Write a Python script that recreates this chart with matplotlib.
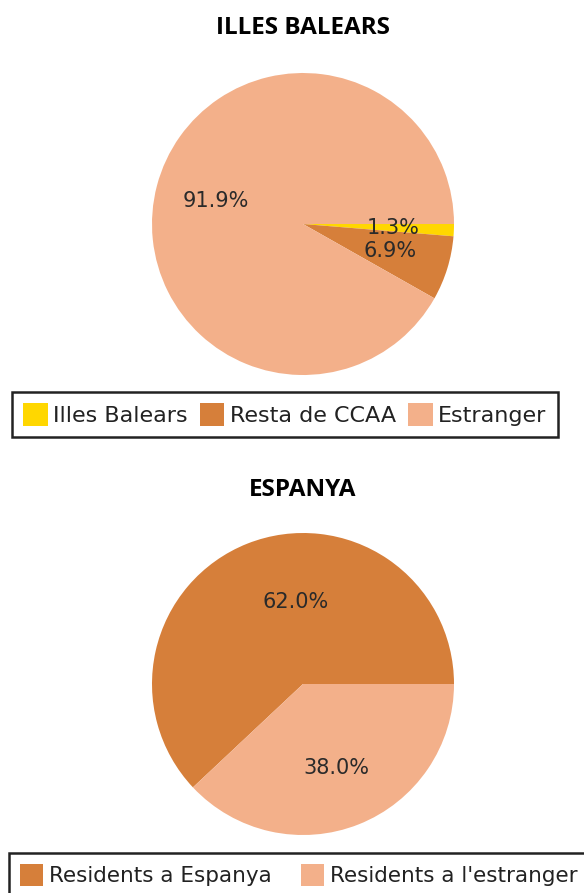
import matplotlib
matplotlib.use("Agg")
import matplotlib.pyplot as plt

# data
balears_labels = ["Illes Balears", "Resta de CCAA", "Estranger"]
balears_values = [1.3, 6.9, 91.9]
espanya_labels = ["Residents a Espanya", "Residents a l'estranger"]
espanya_values = [62.0, 38.0]

yellow = "#FFD700"
orange = "#D67F3A"
peach = "#F3B08A"

W, H = 584, 893
fig = plt.figure(figsize=(W / 100, H / 100), dpi=100)

def pie_axes(cx, cy, r):
    return fig.add_axes([(cx - r) / W, 1 - (cy + r) / H, 2 * r / W, 2 * r / H])

def draw(ax, values, colors, counterclock):
    wedges, texts, autotexts = ax.pie(values, colors=colors, startangle=0,
                                      counterclock=counterclock,
                                      autopct="%.1f%%", pctdistance=0.6,
                                      wedgeprops=dict(linewidth=0),
                                      textprops=dict(color="#2a2a2a", fontsize=15,
                                                     family="DejaVu Sans"))
    # show the published percentages (they add up to 100.1)
    for t, v in zip(autotexts, values):
        t.set_text("%.1f%%" % v)
    ax.set_xlim(-1, 1)
    ax.set_ylim(-1, 1)
    ax.set_aspect("equal")
    return wedges, autotexts

ax1 = pie_axes(303, 224, 151)
w1, a1 = draw(ax1, balears_values, [yellow, orange, peach], False)
ax2 = pie_axes(303, 684, 151)
w2, a2 = draw(ax2, espanya_values, [orange, peach], True)
a2[0].set_position((-0.05, 0.54))

fig.text(303 / W, 1 - 28 / H, "ILLES BALEARS", ha="center", va="center",
         fontsize=17.5, fontweight="bold", family="Open Sans")
fig.text(303 / W, 1 - 490 / H, "ESPANYA", ha="center", va="center",
         fontsize=17.5, fontweight="bold", family="Open Sans")

leg_kw = dict(loc="upper left", fancybox=False, edgecolor="#222222",
              handlelength=1.1, handleheight=1.2, handletextpad=0.25,
              borderpad=0.5, borderaxespad=0, framealpha=1)
l1 = fig.legend(w1, balears_labels, ncol=3, columnspacing=0.55,
                prop=dict(family="DejaVu Sans", size=16),
                bbox_to_anchor=(12 / W, 1 - 392 / H), **leg_kw)
l2 = fig.legend(w2, espanya_labels, ncol=2, columnspacing=1.35,
                prop=dict(family="DejaVu Sans", size=15.5),
                bbox_to_anchor=(9 / W, 1 - 853 / H), **leg_kw)
for leg in (l1, l2):
    leg.get_frame().set_linewidth(1.8)
    for t in leg.get_texts():
        t.set_color("#222222")

fig.savefig("out.png", dpi=100)
